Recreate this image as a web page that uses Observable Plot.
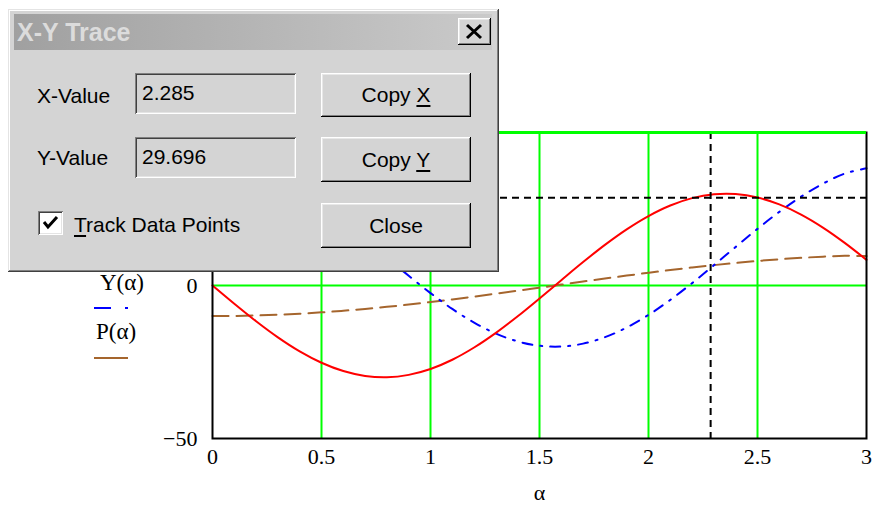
<!DOCTYPE html>
<html>
<head>
<meta charset="utf-8">
<script src="https://cdn.jsdelivr.net/npm/d3@7"></script>
<script src="https://cdn.jsdelivr.net/npm/@observablehq/plot@0.6"></script>
<style>
  html, body { margin: 0; padding: 0; background: #fff; overflow: hidden; }
  #wrap { position: relative; width: 873px; height: 506px; }
  #chart { position: absolute; left: 0; top: 0; }
  .leg { position: absolute; font-family: "Liberation Serif", serif; font-size: 23px; color: #000; line-height: 24px; white-space: nowrap; }
  .sw { position: absolute; height: 2px; }
  #dlg { position: absolute; left: 8px; top: 9px; width: 491px; height: 263px; background: #d4d4d4;
         box-shadow: inset -1px -1px #404040, inset 1px 1px #e4e4e4, inset -2px -2px #808080, inset 2px 2px #ffffff;
         font-family: "Liberation Sans", Arial, sans-serif; font-size: 21px; color: #000; }
  #dlg .abs { position: absolute; }
  #title { left: 6px; top: 5px; width: 478px; height: 36px; background: linear-gradient(to right, #a0a0a0, #cacaca); }
  #title span { position: absolute; left: 3px; top: 0; line-height: 36px; font-weight: bold; font-size: 25px; color: #dcdcdc; }
  .raised { background: #d4d4d4; box-shadow: inset -1px -1px #000, inset 1px 1px #fff, inset -2px -2px #808080, inset 2px 2px #e8e8e8; text-align: center; }
  .sunken { background: #d4d4d4; box-shadow: inset 1px 1px #808080, inset -1px -1px #fff, inset 2px 2px #404040, inset -2px -2px #e4e4e4; }
  .lbl { line-height: 24px; white-space: nowrap; }
  u { text-decoration: underline; text-underline-offset: 3px; }
</style>
</head>
<body>
<div id="wrap">
  <div id="chart"></div>

  <div class="leg" style="left:100px; top:271px;">Y(α)</div>
  <div class="sw" style="left:94px; top:307px; width:17px; background:#0000ff;"></div>
  <div class="sw" style="left:125px; top:307px; width:3px; background:#0000ff;"></div>
  <div class="leg" style="left:96px; top:320px;">P(α)</div>
  <div class="sw" style="left:94px; top:357px; width:34px; background:#a5652d;"></div>

  <div id="dlg">
    <div id="title" class="abs"><span>X-Y Trace</span></div>
    <div class="abs raised" style="left:450px; top:9px; width:33px; height:27px;">
      <svg width="33" height="27" style="position:absolute;left:0;top:0">
        <path d="M9,7 L23,20 M23,7 L9,20" stroke="#000" stroke-width="3" fill="none"/>
      </svg>
    </div>
    <div class="abs lbl" style="left:29px; top:75px;">X-Value</div>
    <div class="abs sunken" style="left:127px; top:64px; width:161px; height:41px;">
      <div class="abs lbl" style="left:7px; top:8px;">2.285</div>
    </div>
    <div class="abs raised lbl" style="left:313px; top:64px; width:150px; height:44px; line-height:44px;">Copy <u>X</u></div>
    <div class="abs lbl" style="left:29px; top:137px;">Y-Value</div>
    <div class="abs sunken" style="left:127px; top:128px; width:161px; height:41px;">
      <div class="abs lbl" style="left:7px; top:8px;">29.696</div>
    </div>
    <div class="abs raised lbl" style="left:313px; top:128px; width:150px; height:45px; line-height:45px;">Copy <u>Y</u></div>
    <div class="abs sunken" style="left:30px; top:202px; width:25px; height:24px; background:#fff;">
      <svg width="25" height="24" style="position:absolute;left:0;top:0">
        <polyline points="6,11 10,16 19,6" stroke="#000" stroke-width="3" fill="none"/>
      </svg>
    </div>
    <div class="abs lbl" style="left:66px; top:204px;"><u>T</u>rack Data Points</div>
    <div class="abs raised lbl" style="left:313px; top:194px; width:150px; height:45px; line-height:45px;">Close</div>
  </div>
</div>
<script>
// α values (range variable) and the three traces
const alpha = [0,0.1,0.2,0.3,0.4,0.5,0.6,0.7,0.8,0.9,1.0,1.1,1.2,1.3,1.4,1.5,1.6,1.7,1.8,1.9,2.0,2.1,2.2,2.3,2.4,2.5,2.6,2.7,2.8,2.9,3.0];
const fAlpha = [0,-5.96,-11.68,-16.94,-21.52,-25.24,-27.96,-29.56,-29.99,-29.21,-27.28,-24.26,-20.26,-15.47,-10.05,-4.23,1.75,7.66,13.28,18.36,22.70,26.15,28.55,29.81,29.89,28.77,26.50,23.18,18.94,13.94,8.38];
const yAlpha = [40,39.4,37.63,34.76,30.9,26.21,20.87,15.1,9.12,3.18,-2.48,-7.66,-12.12,-15.71,-18.27,-19.7,-19.95,-19.0,-16.9,-13.73,-9.61,-4.71,0.78,6.63,12.62,18.51,24.06,29.04,33.27,36.57,38.3];
const pAlpha = [-10,-9.95,-9.8,-9.55,-9.21,-8.78,-8.25,-7.65,-6.97,-6.22,-5.4,-4.54,-3.62,-2.67,-1.7,-0.71,0.29,1.29,2.27,3.23,4.16,5.05,5.89,6.66,7.37,8.01,8.57,9.04,9.42,9.71,9.6];

const xTicks = [0, 0.5, 1, 1.5, 2, 2.5, 3];
const xTickLabels = ["0", "0.5", "1", "1.5", "2", "2.5", "3"];
const yTicks = [-50, 0, 50];
const gridX = [0.5, 1, 1.5, 2, 2.5];
const gridY = [0];
const topY = [50];
const traceX = [2.285];
const traceY = [28.7];

const rows = (ys) => alpha.map((a, i) => ({a, v: ys[i]}));

const chart = Plot.plot({
  width: 873,
  height: 506,
  marginLeft: 212,
  marginRight: 7,
  marginTop: 132,
  marginBottom: 68,
  style: {fontFamily: "'Liberation Serif', serif", fontSize: "22px", background: "transparent", color: "#000", overflow: "visible"},
  x: {domain: [0, 3], ticks: xTicks, tickFormat: (d) => xTickLabels[xTicks.indexOf(d)] ?? String(d), tickSize: 0, tickPadding: 10, label: "α", labelAnchor: "center", labelArrow: "none", labelOffset: 61},
  y: {domain: [-50, 50], ticks: yTicks, tickSize: 0, tickPadding: 15, label: null},
  marks: [
    Plot.ruleX(gridX, {stroke: "#00ff00", strokeWidth: 2}),
    Plot.ruleY(gridY, {stroke: "#00ff00", strokeWidth: 2}),
    Plot.line(rows(pAlpha), {x: "a", y: "v", stroke: "#a5652d", strokeWidth: 2, strokeDasharray: "16,8", curve: "catmull-rom"}),
    Plot.line(rows(yAlpha), {x: "a", y: "v", stroke: "#0000ff", strokeWidth: 2, strokeDasharray: "10,8,2,8", curve: "catmull-rom"}),
    Plot.line(rows(fAlpha), {x: "a", y: "v", stroke: "#ff0000", strokeWidth: 2, curve: "catmull-rom"}),
    Plot.ruleX(traceX, {stroke: "#000", strokeWidth: 2, strokeDasharray: "7,5"}),
    Plot.ruleY(traceY, {stroke: "#000", strokeWidth: 2, strokeDasharray: "7,5"}),
    Plot.frame({stroke: "#000", strokeWidth: 2}),
    Plot.ruleY(topY, {stroke: "#00ff00", strokeWidth: 3})
  ]
});
document.getElementById("chart").appendChild(chart);
</script>
</body>
</html>
